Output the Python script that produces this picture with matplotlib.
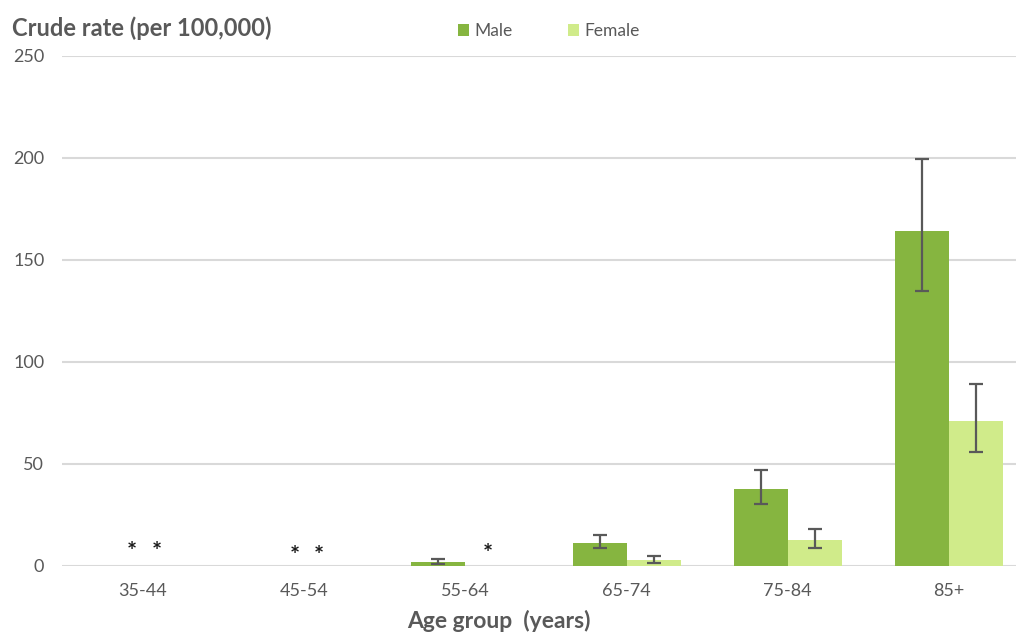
import matplotlib
matplotlib.use("Agg")
import matplotlib.pyplot as plt
import numpy as np

# Crude rate per 100,000 by age group and sex, with 95% confidence limits
age_groups = ["35-44", "45-54", "55-64", "65-74", "75-84", "85+"]
male_rate = [0, 0, 1.8, 11.1, 37.6, 164.2]
male_low = [0, 0, 0.8, 8.7, 30.2, 134.8]
male_high = [0, 0, 3.4, 15.2, 47.1, 199.4]
female_rate = [0, 0, 0, 2.8, 12.7, 71.1]
female_low = [0, 0, 0, 1.6, 8.7, 56.0]
female_high = [0, 0, 0, 5.0, 18.1, 89.2]

# Suppressed estimates shown as asterisks: (group index, x offset, y)
suppressed = [(0, -0.07, 10.0), (0, 0.085, 10.0),
              (1, -0.058, 8.2), (1, 0.09, 8.2),
              (2, 0.14, 8.8)]

MALE_C = "#86B540"
FEMALE_C = "#D0EB8A"
TEXT_C = "#595959"
GRID_C = "#D9D9D9"
FONT = "Lato"

W, H = 1016, 635
fig = plt.figure(figsize=(W / 100, H / 100), dpi=100)
left, right = 62.4 / W, 1029.6 / W
bottom, top = (H - 566) / H, (H - 56) / H
ax = fig.add_axes([left, bottom, right - left, top - bottom])

x = np.arange(len(age_groups))
bw = 0.335

def errs(rate, low, high):
    r = np.array(rate); l = np.array(low); h = np.array(high)
    return np.vstack([r - l, h - r])

show_m = np.array(male_rate) > 0
show_f = np.array(female_rate) > 0

ax.bar(x[show_m] - bw / 2, np.array(male_rate)[show_m], bw, color=MALE_C,
       label="Male", zorder=3)
ax.bar(x[show_f] + bw / 2, np.array(female_rate)[show_f], bw, color=FEMALE_C,
       label="Female", zorder=3)

em = errs(male_rate, male_low, male_high)[:, show_m]
ef = errs(female_rate, female_low, female_high)[:, show_f]
ax.errorbar(x[show_m] - bw / 2, np.array(male_rate)[show_m], yerr=em, fmt="none",
            ecolor=TEXT_C, elinewidth=1.6, capsize=5, capthick=1.6, zorder=4)
ax.errorbar(x[show_f] + bw / 2, np.array(female_rate)[show_f], yerr=ef, fmt="none",
            ecolor=TEXT_C, elinewidth=1.6, capsize=5, capthick=1.6, zorder=4)

# asterisk glyph sits high in the em box, so shift the text down a little
for gi, dx, yy in suppressed:
    ax.annotate("*", xy=(x[gi] + dx, yy), xytext=(0, -5), textcoords="offset points",
                ha="center", va="center", fontsize=17, fontweight="bold",
                color="#1a1a1a", family=FONT, zorder=5)

ax.set_xlim(-0.5, len(age_groups) - 0.5)
ax.set_ylim(0, 250)
ax.set_yticks([0, 50, 100, 150, 200, 250])
ax.set_xticks(x)
ax.set_xticklabels(age_groups)
ax.yaxis.grid(True, color=GRID_C, linewidth=1.5, zorder=0)
ax.set_axisbelow(True)
for s in ax.spines.values():
    s.set_visible(False)
ax.tick_params(axis="both", length=0, labelsize=13, labelcolor=TEXT_C)
ax.tick_params(axis="x", pad=12)
ax.tick_params(axis="y", pad=13)
for lab in ax.get_xticklabels() + ax.get_yticklabels():
    lab.set_family(FONT)

fig.text(12 / W, 1 - 28 / H, "Crude rate (per 100,000)", ha="left", va="center",
         fontsize=17, fontweight="bold", color=TEXT_C, family=FONT)
fig.text(499 / W, 1 - 621 / H, "Age group  (years)", ha="center", va="center",
         fontsize=16.5, fontweight="bold", color=TEXT_C, family=FONT)

leg = fig.legend(loc="center", bbox_to_anchor=(549 / W, 1 - 31 / H), ncol=2,
                 frameon=False, handlelength=0.65, handleheight=0.65,
                 handletextpad=0.3, columnspacing=3.2,
                 prop={"family": FONT, "size": 12.5})
for t in leg.get_texts():
    t.set_color(TEXT_C)

fig.savefig("out.png", dpi=100)
